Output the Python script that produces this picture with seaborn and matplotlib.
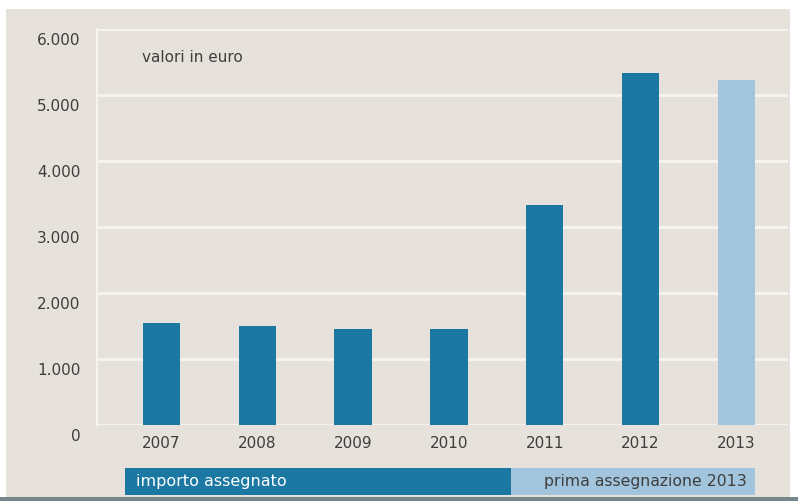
import matplotlib
matplotlib.use("Agg")
import matplotlib.pyplot as plt
import seaborn as sns
import pandas as pd
from matplotlib.patches import Rectangle
from matplotlib.transforms import ScaledTranslation

# ---- data ----
years = ["2007", "2008", "2009", "2010", "2011", "2012", "2013"]
values = [1540, 1500, 1460, 1460, 3330, 5340, 5220]
legend_labels = ["importo assegnato", "prima assegnazione 2013"]
series = [legend_labels[0]] * 6 + [legend_labels[1]]
y_ticks = [0, 1000, 2000, 3000, 4000, 5000, 6000]
y_tick_labels = ["0", "1.000", "2.000", "3.000", "4.000", "5.000", "6.000"]
unit_note = "valori in euro"

# ---- style ----
DARK = "#1b78a2"
LIGHT = "#a2c4dc"
BG = "#e6e1da"
GRID = "#f7f4ef"
TEXT = "#3e3e3e"

sns.set_theme(style="white")
plt.rcParams['font.family'] = ['DejaVu Sans']

W, H = 798, 501
fig = plt.figure(figsize=(W / 100, H / 100), dpi=100, facecolor="white")

def fx(px):
    return px / W

def fy(py):
    return 1 - py / H

# background panel and bottom grey rule
fig.patches.append(Rectangle((fx(6), fy(497)), fx(790) - fx(6), fy(9) - fy(497),
                             transform=fig.transFigure, facecolor=BG, edgecolor="none", zorder=-5))
fig.patches.append(Rectangle((0, 0), 1, 4 / H, transform=fig.transFigure,
                             facecolor="#75858c", edgecolor="none", zorder=-5))

ax = fig.add_axes([fx(97), fy(425), fx(788) - fx(97), fy(29) - fy(425)])
ax.set_facecolor(BG)

df = pd.DataFrame({"year": years, "value": values, "series": series})
sns.barplot(data=df, x="year", y="value", hue="series",
            palette={legend_labels[0]: DARK, legend_labels[1]: LIGHT},
            dodge=False, width=0.39, saturation=1, legend=False, ax=ax, zorder=3,
            linewidth=0, edgecolor="none")

ax.set_ylim(0, 6000)
ax.set_xlim(-0.673, 6.54)
ax.set_yticks(y_ticks, y_tick_labels)
ax.set_xlabel("")
ax.set_ylabel("")
ax.grid(axis="y", color=GRID, linewidth=2)
ax.grid(axis="x", visible=False)
ax.set_axisbelow(True)
for s in ["top", "right", "bottom"]:
    ax.spines[s].set_visible(False)
ax.spines["left"].set_color(GRID)
ax.spines["left"].set_linewidth(1.5)

ax.tick_params(axis="both", length=0, labelsize=11, labelcolor=TEXT)
ax.tick_params(axis="y", pad=12)
ax.tick_params(axis="x", pad=8)
off = ScaledTranslation(0, -10 / 100, fig.dpi_scale_trans)
for lab in ax.get_yticklabels():
    lab.set_transform(lab.get_transform() + off)

fig.text(fx(142), fy(57), unit_note, fontsize=11, color=TEXT, va="center", ha="left")

# legend strip
fig.patches.append(Rectangle((fx(125), fy(495)), fx(511) - fx(125), fy(468) - fy(495),
                             transform=fig.transFigure, facecolor=DARK, edgecolor="none", zorder=1))
fig.patches.append(Rectangle((fx(511), fy(495)), fx(755) - fx(511), fy(468) - fy(495),
                             transform=fig.transFigure, facecolor=LIGHT, edgecolor="none", zorder=1))
fig.text(fx(136), fy(481.5), legend_labels[0], fontsize=11.5, color="white", va="center", ha="left")
fig.text(fx(747), fy(481.5), legend_labels[1], fontsize=11.3, color=TEXT, va="center", ha="right")

fig.savefig("out.png", dpi=100, facecolor="white")
